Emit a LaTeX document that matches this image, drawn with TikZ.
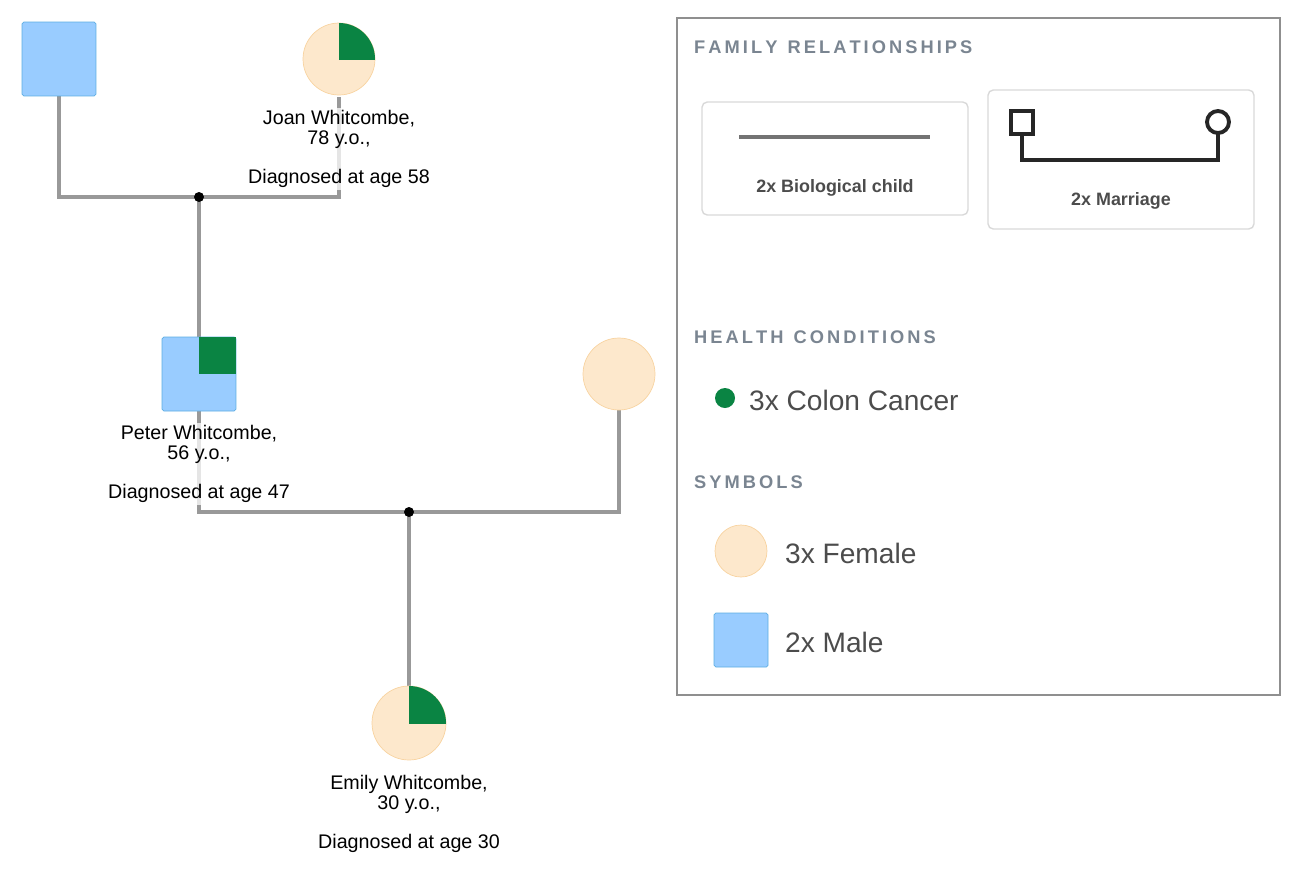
\documentclass[tikz,border=0pt]{standalone}
\usepackage{fontspec}
\setmainfont{Liberation Sans}
\usetikzlibrary{positioning}
\definecolor{maleblue}{HTML}{99CCFF}
\definecolor{maleedge}{HTML}{5DADE2}
\definecolor{femfill}{HTML}{FDE8CC}
\definecolor{femedge}{HTML}{F8D3A0}
\definecolor{cancer}{HTML}{0A8443}
\definecolor{link}{HTML}{999999}
\definecolor{head}{HTML}{7A8591}
\tikzset{
  male/.style={draw=maleedge,fill=maleblue,minimum size=1.48cm,inner sep=0pt,rounded corners=1pt},
  female/.style={circle,draw=femedge,fill=femfill,minimum size=1.44cm,inner sep=0pt},
  rel/.style={link,line width=2pt},
  person/.style={align=center,font=\fontsize{11.2}{11.3}\selectfont,fill=white,fill opacity=0.75,text opacity=1,inner sep=1pt},
  head/.style={anchor=west,text=head,font=\fontsize{10.4}{11}\selectfont\bfseries},
  big/.style={anchor=west,text=black!70,font=\fontsize{16}{18}\selectfont},
  small/.style={font=\fontsize{10.2}{11}\selectfont\bfseries,text=black!70},
  card/.style={draw=black!15,line width=0.8pt,rounded corners=3pt},
  symb/.style={black!85,line width=2.2pt}
}
\begin{document}
\begin{tikzpicture}[x=0.02cm,y=-0.02cm]
  \useasboundingbox (0,0) rectangle (1298,880);
  % tree
  \coordinate (m1) at (199,197);
  \coordinate (m2) at (409,512);
  \draw[rel] (59,96) |- (m1) -| (339,97);
  \draw[rel] (m1) -- (199,337);
  \draw[rel] (199,411) |- (m2) -| (619,410);
  \draw[rel] (m2) -- (409,686);
  \fill (m1) circle (5);
  \fill (m2) circle (5);
  \node[male] (gf) at (59,59) {};
  \node[female] (joan) at (339,59) {};
  \begin{scope}
    \clip (339,59) rectangle (380,18);
    \fill[cancer] (339,59) circle (36);
  \end{scope}
  \node[person,anchor=north] (joant) at (339,108) {Joan Whitcombe,\\78 y.o.,\\[1.0em]Diagnosed at age 58};
  \node[male] (peter) at (199,374) {};
  \fill[cancer] (199,337) rectangle (236,374);
  \node[person,anchor=north] (petert) at (199,423) {Peter Whitcombe,\\56 y.o.,\\[1.0em]Diagnosed at age 47};
  \node[female] (wife) at (619,374) {};
  \node[female,minimum size=1.48cm] (emily) at (409,723) {};
  \begin{scope}
    \clip (409,723) rectangle (450,680);
    \fill[cancer] (409,723) circle (37);
  \end{scope}
  \node[person,anchor=north] (emilyt) at (409,773) {Emily Whitcombe,\\30 y.o.,\\[1.0em]Diagnosed at age 30};
  % legend
  \draw[link!110,line width=1.2pt] (677,18) rectangle (1280,695);
  \node[head] (famh) at (688,47) {F\,A\,M\,I\,L\,Y\ \ R\,E\,L\,A\,T\,I\,O\,N\,S\,H\,I\,P\,S};
  \draw[card] (702,102) rectangle (968,215);
  \draw[black!55,line width=2.5pt] (739,137) -- (930,137);
  \node[small] (bio) at (835,188) {2x Biological child};
  \draw[card] (988,90) rectangle (1254,229);
  \draw[symb] (1011,111) rectangle (1033,134);
  \draw[symb] (1218,122) circle (11);
  \draw[symb] (1022,134) -- (1022,160) -- (1218,160) -- (1218,133);
  \node[small] (mar) at (1121,201) {2x Marriage};
  \node[head] (healh) at (688,337) {H\,E\,A\,L\,T\,H\ \ C\,O\,N\,D\,I\,T\,I\,O\,N\,S};
  \fill[cancer] (725,398) circle (10);
  \node[big] (cc) at (743,400) {3x Colon Cancer};
  \node[head] (symh) at (688,482) {S\,Y\,M\,B\,O\,L\,S};
  \node[female,minimum size=1.04cm] (lf) at (741,551) {};
  \node[big] (lft) at (779,553) {3x Female};
  \node[male,minimum size=1.08cm] (lm) at (741,640) {};
  \node[big] (lmt) at (779,642) {2x Male};
\end{tikzpicture}
\end{document}
